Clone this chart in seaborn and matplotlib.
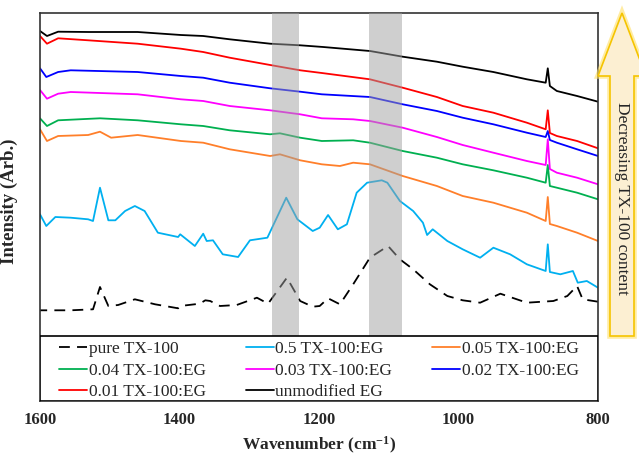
import matplotlib

matplotlib.use("Agg")

import matplotlib.pyplot as plt
import seaborn as sns
from matplotlib.patches import Polygon, Rectangle

sns.set_theme(style="white")
plt.rcParams["font.family"] = ["Liberation Serif", "DejaVu Serif"]
plt.rcParams["mathtext.fontset"] = "custom"
plt.rcParams["mathtext.rm"] = "Liberation Serif:bold"
plt.rcParams["mathtext.default"] = "rm"

# values (wavenumber in cm-1, intensity in arbitrary units)
pure_wn = [1600, 1556, 1524, 1514, 1502, 1488, 1464, 1435, 1402, 1399, 1371, 1363,
           1356, 1342, 1318, 1289, 1273, 1246, 1227, 1209, 1199, 1187, 1170, 1151,
           1127, 1101, 1084, 1065, 1041, 1016, 994, 969, 940, 902, 864, 844, 830,
           822, 800]
pure_int = [90.7, 90.7, 91.7, 114, 95, 96, 101.7, 96.7, 92.7, 95, 97.3, 100.7,
            100, 95, 96, 103.3, 97.3, 123.3, 100, 94.3, 95, 102.7, 96.7, 116.7,
            143.3, 155, 141.7, 131.7, 116.7, 105, 100.7, 98.3, 107.3, 98.3, 100, 105, 115,
            101.7, 99.3]

tx05_wn = [1600, 1591, 1578, 1556, 1531, 1524, 1514, 1502, 1492, 1478, 1464, 1450,
           1431, 1402, 1399, 1378, 1366, 1361, 1352, 1338, 1316, 1299, 1274, 1247,
           1231, 1209, 1199, 1187, 1173, 1160, 1146, 1131, 1110, 1102, 1084, 1065,
           1051, 1045, 1037, 1016, 994, 969, 950, 926, 902, 875, 872, 869, 854, 836,
           829, 816, 800]
tx05_int = [186.7, 175, 184, 183.3, 181.7, 180, 213.3, 180.7, 180.7, 190, 195, 190,
            168.3, 164, 166.7, 155, 167.3, 160, 160.7, 146.7, 144, 160.7, 163.3, 203.3,
            181.7, 170, 173.3, 186, 171.7, 176.7, 208.3, 218.3, 220.7, 218.3, 200, 190,
            178.3, 166, 171.7, 160, 151.7, 143.3, 153.3, 146.7, 136.7, 130, 156.7, 129,
            126.7, 130, 118.3, 120, 113.3]

tx005_wn = [1600, 1590, 1574, 1531, 1514, 1498, 1460, 1398, 1366, 1328, 1270, 1256,
            1227, 1196, 1170, 1151, 1127, 1080, 1031, 994, 950, 902, 875, 872, 869,
            859, 830, 800]
tx005_int = [271.7, 260, 265, 266, 269.3, 263.3, 266, 260, 258.3, 251.7, 245, 246.7,
             240.7, 236.7, 235, 238.3, 236.7, 225, 215, 205, 198.3, 188.3, 180, 204, 177,
             175, 168.3, 160]

tx004_wn = [1600, 1590, 1574, 1514, 1460, 1398, 1366, 1328, 1270, 1256, 1227, 1196,
            1151, 1127, 1080, 1031, 994, 950, 902, 875, 872, 869, 859, 830, 800]
tx004_int = [282.7, 275, 280.7, 282.7, 280.7, 276.7, 275, 270.7, 266.7, 267.7, 263.3, 260,
             260.7, 258.3, 250, 243.3, 236.7, 230.7, 223.3, 218.3, 236, 215, 213.3,
             208.3, 201.7]

tx003_wn = [1600, 1590, 1574, 1556, 1460, 1398, 1366, 1328, 1270, 1227, 1196, 1151,
            1127, 1080, 1031, 994, 950, 902, 875, 872, 869, 859, 830, 800]
tx003_int = [311, 302.3, 307.3, 309, 306.7, 301.7, 300, 295, 290.7, 286.7, 282.7, 281.7,
             280, 273.3, 264, 256, 248.3, 240, 236, 261.7, 232, 228.3, 223.3, 216.7]

tx002_wn = [1600, 1591, 1574, 1556, 1460, 1398, 1366, 1328, 1270, 1227, 1196, 1127,
            1080, 1031, 994, 950, 902, 875, 872, 869, 859, 830, 800]
tx002_int = [332.7, 324, 329, 330.7, 329, 325, 323.3, 318.3, 312.7, 309.3, 306.7, 304,
             296.7, 290, 283.3, 276.7, 268.3, 264, 270, 261, 258.3, 251.7, 245]

tx001_wn = [1600, 1590, 1574, 1531, 1460, 1398, 1366, 1328, 1270, 1227, 1196, 1127,
            1080, 1031, 994, 950, 902, 875, 872, 869, 859, 830, 800]
tx001_int = [365, 357.3, 362.7, 360.7, 357.3, 352.3, 349, 343.3, 336, 330.7, 328, 321.7,
             313.3, 304, 295, 288.3, 278.3, 271.7, 290.7, 268, 265, 260, 252.7]

eg_wn = [1600, 1590, 1574, 1530, 1460, 1398, 1366, 1328, 1270, 1227, 1194, 1127,
         1080, 1031, 994, 950, 902, 875, 872, 869, 859, 830, 800]
eg_int = [370, 365, 369.3, 369, 369, 366, 365, 361.7, 357.3, 355.7, 354, 350,
          344.3, 339.3, 334.3, 329, 321.7, 318.3, 332.7, 315, 310, 305, 299.3]

labels = ["pure TX-100", "0.5 TX-100:EG", "0.05 TX-100:EG", "0.04 TX-100:EG",
          "0.03 TX-100:EG", "0.02 TX-100:EG", "0.01 TX-100:EG", "unmodified EG"]
colors = ["black", "#00b0f0", "#ff7f2a", "#00b050", "#ff00ff", "#0000ff", "#ff0000", "black"]
series = [(pure_wn, pure_int), (tx05_wn, tx05_int), (tx005_wn, tx005_int),
          (tx004_wn, tx004_int), (tx003_wn, tx003_int), (tx002_wn, tx002_int),
          (tx001_wn, tx001_int), (eg_wn, eg_int)]

bands = [(1267, 1229), (1129, 1081)]

fig = plt.figure(figsize=(6.39, 4.59), dpi=100)
ax = fig.add_axes([40 / 639, 1 - 401 / 459, 558 / 639, 388 / 459])

for (wn, inten), label, color in zip(series, labels, colors):
    sns.lineplot(x=wn, y=inten, ax=ax, color=color, label=label, lw=1.3)

ax.lines[0].set_dashes([6, 4])

for hi, lo in bands:
    ax.axvspan(lo, hi, color="#a0a0a0", alpha=0.5, lw=0, zorder=3)

ax.set_xlim(1600, 800)
ax.set_ylim(0, 388)
ax.set_xticks([1600, 1400, 1200, 1000, 800])
ax.set_yticks([])
ax.tick_params(axis="x", length=0, pad=8, labelsize=12)
for lbl in ax.get_xticklabels():
    lbl.set_fontweight("bold")

ax.set_xlabel("Wavenumber (cm$^{-1}$)", fontsize=12.5, fontweight="bold", labelpad=5)
ax.set_ylabel("Intensity (Arb.)", fontsize=13.5, fontweight="bold")
ax.yaxis.set_label_coords(-0.04, 0.515)

for spine in ax.spines.values():
    spine.set_color("#333333")
    spine.set_linewidth(1.2)

# legend box drawn separately, entries filled row by row like the reference
box_h = 65 / 388
ax.add_patch(Rectangle((0, 0), 1, box_h, transform=ax.transAxes, facecolor="white",
                       edgecolor="black", lw=1.2, zorder=8))
handles, _ = ax.get_legend_handles_labels()
order = [0, 3, 6, 1, 4, 7, 2, 5]
leg = ax.legend([handles[i] for i in order], [labels[i] for i in order],
                loc="center", bbox_to_anchor=(0.5, 30.5 / 388), ncol=3,
                fontsize=12.5, frameon=False, handlelength=1.6, handletextpad=0.1,
                labelspacing=0.3, borderpad=0, columnspacing=2.3)
leg.set_zorder(10)

# arrow on the right, outside the axes
W, H = 639, 459
arrow_px = [(622, 13), (646, 76), (634, 76), (634, 336), (610, 336), (610, 76), (598, 76)]
arrow_pts = [(x / W, 1 - y / H) for x, y in arrow_px]
fig.patches.append(Polygon(arrow_pts, closed=True, transform=fig.transFigure,
                           facecolor="#fcefd2", edgecolor="#ffe066", lw=4, alpha=0.6))
fig.patches.append(Polygon(arrow_pts, closed=True, transform=fig.transFigure,
                           facecolor="#fcefd2", edgecolor="#f5c400", lw=1.2))
fig.text(622 / W, 1 - 198 / H, "Decreasing TX-100 content", rotation=270,
         ha="center", va="center", fontsize=12.5)

fig.savefig("out.png", dpi=100)
